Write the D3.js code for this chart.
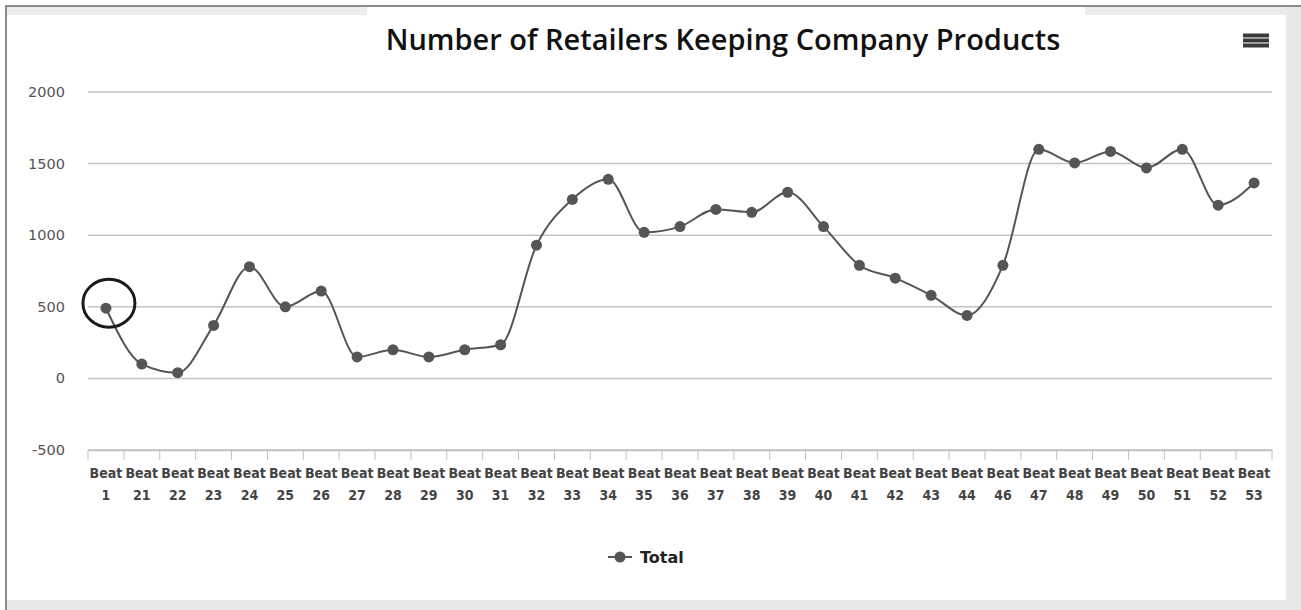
<!DOCTYPE html>
<html>
<head>
<meta charset="utf-8">
<script src="https://cdn.jsdelivr.net/npm/d3@7"></script>
<style>
  html, body { margin: 0; padding: 0; background: #fff; }
  svg { display: block; }
</style>
</head>
<body>
<svg id="chart" width="1301" height="610"></svg>
<script>
const categories = ["Beat 1","Beat 21","Beat 22","Beat 23","Beat 24","Beat 25","Beat 26","Beat 27","Beat 28","Beat 29","Beat 30","Beat 31","Beat 32","Beat 33","Beat 34","Beat 35","Beat 36","Beat 37","Beat 38","Beat 39","Beat 40","Beat 41","Beat 42","Beat 43","Beat 44","Beat 46","Beat 47","Beat 48","Beat 49","Beat 50","Beat 51","Beat 52","Beat 53"];
const totalValues = [490,100,40,370,780,500,610,150,200,150,200,235,930,1250,1390,1020,1060,1180,1160,1300,1060,790,700,580,440,790,1600,1505,1585,1470,1600,1210,1365];
const yTicks = [-500,0,500,1000,1500,2000];
const titleText = "Number of Retailers Keeping Company Products";
const seriesName = "Total";

(function () {
const svg = d3.select("#chart");

// page frame
svg.append("rect").attr("x",0).attr("y",0).attr("width",1301).attr("height",610).attr("fill","#fff");
svg.append("rect").attr("x",7).attr("y",7).attr("width",360).attr("height",8).attr("fill","#ececec");
svg.append("rect").attr("x",1085).attr("y",7).attr("width",216).attr("height",8).attr("fill","#ececec");
svg.append("rect").attr("x",1286).attr("y",7).attr("width",15).attr("height",603).attr("fill","#e8e8e8");
svg.append("rect").attr("x",7).attr("y",600).attr("width",1294).attr("height",10).attr("fill","#e8e8e8");
svg.append("rect").attr("x",6).attr("y",5).attr("width",1295).attr("height",2).attr("fill","#8a8a8a");
svg.append("rect").attr("x",5).attr("y",5).attr("width",2).attr("height",605).attr("fill","#8a8a8a");

const pLeft = 88, pRight = 1272, pTop = 92, pBottom = 450;

const x = d3.scaleBand().domain(categories).range([pLeft, pRight]).padding(0);
const y = d3.scaleLinear().domain([-500, 2000]).range([pBottom, pTop]);

// gridlines
svg.append("g").selectAll("line").data(yTicks).join("line")
  .attr("x1", pLeft).attr("x2", pRight)
  .attr("y1", d => y(d)).attr("y2", d => y(d))
  .attr("stroke", "#c4c4c4").attr("stroke-width", 1.5);

// y labels
svg.append("g").selectAll("text").data(yTicks).join("text")
  .attr("x", 65).attr("y", d => y(d) + 5)
  .attr("text-anchor", "end")
  .attr("font-family", "DejaVu Sans, sans-serif")
  .attr("font-size", 14.5).attr("fill", "#555")
  .text(d => d);

// x axis
const xAxis = d3.axisBottom(x).tickSize(0).tickSizeOuter(0).tickFormat("");
const gx = svg.append("g").attr("transform", `translate(0,${pBottom})`).call(xAxis);
gx.select(".domain").attr("stroke", "#c0c0c0").attr("stroke-width", 1.5);
gx.selectAll(".tick").remove();
const tickPos = categories.map(c => x(c)).concat([pRight]);
gx.selectAll("line.tk").data(tickPos).join("line").attr("class","tk")
  .attr("x1", d => d).attr("x2", d => d).attr("y1", 0).attr("y2", 10)
  .attr("stroke", "#c0c0c0").attr("stroke-width", 1);

const xl = svg.append("g").selectAll("text").data(categories).join("text")
  .attr("x", d => x(d) + x.bandwidth()/2)
  .attr("text-anchor", "middle")
  .attr("font-family", "DejaVu Sans Condensed, DejaVu Sans, sans-serif")
  .attr("font-size", 14).attr("font-weight", "bold").attr("fill", "#444");
xl.append("tspan").attr("x", d => x(d) + x.bandwidth()/2).attr("y", 478).text(d => d.split(" ")[0]);
xl.append("tspan").attr("x", d => x(d) + x.bandwidth()/2).attr("y", 500).text(d => d.split(" ")[1]);

// line
const line = d3.line()
  .x((d, i) => x(categories[i]) + x.bandwidth()/2)
  .y(d => y(d))
  .curve(d3.curveMonotoneX);
svg.append("path").datum(totalValues).attr("d", line)
  .attr("fill", "none").attr("stroke", "#555").attr("stroke-width", 2);

svg.append("g").selectAll("circle").data(totalValues).join("circle")
  .attr("cx", (d, i) => x(categories[i]) + x.bandwidth()/2)
  .attr("cy", d => y(d))
  .attr("r", 5.5).attr("fill", "#555");

// annotation circle around first point
svg.append("ellipse")
  .attr("cx", x(categories[0]) + x.bandwidth()/2 + 3)
  .attr("cy", y(totalValues[0]) - 5)
  .attr("rx", 26).attr("ry", 24)
  .attr("fill", "none").attr("stroke", "#1a1a1a").attr("stroke-width", 3);

// title
svg.append("text").attr("x", 723).attr("y", 50)
  .attr("text-anchor", "middle")
  .attr("font-family", "Open Sans, sans-serif")
  .attr("font-size", 29).attr("font-weight", 600).attr("fill", "#111")
  .text(titleText);

// menu icon
svg.append("g").selectAll("rect").data([0,1,2]).join("rect")
  .attr("x", 1243).attr("y", d => 33.5 + d*5).attr("width", 26).attr("height", 4)
  .attr("fill", "#3a3a3a");

// legend
svg.append("line").attr("x1", 608).attr("x2", 632).attr("y1", 557).attr("y2", 557)
  .attr("stroke", "#555").attr("stroke-width", 2);
svg.append("circle").attr("cx", 620).attr("cy", 557).attr("r", 5.5).attr("fill", "#555");
svg.append("text").attr("x", 640).attr("y", 563)
  .attr("font-family", "DejaVu Sans, sans-serif").attr("font-size", 16).attr("font-weight", "bold")
  .attr("fill", "#222").text(seriesName);
})();
</script>
</body>
</html>
